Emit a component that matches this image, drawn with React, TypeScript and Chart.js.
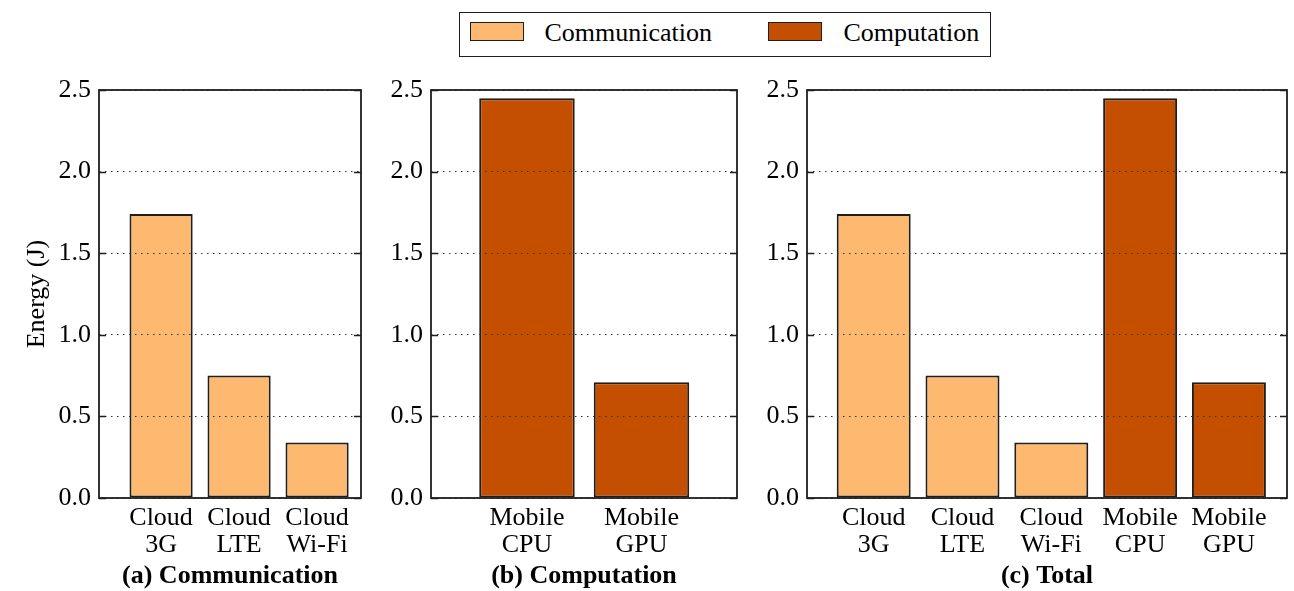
import React, { useEffect, useRef } from "react";
import { Chart, registerables } from "chart.js";

Chart.register(...registerables);

// ---------------- data ----------------
const seriesNames = ["Communication", "Computation"];
const commCategories = [["Cloud", "3G"], ["Cloud", "LTE"], ["Cloud", "Wi-Fi"]];
const commValues = [1.74, 0.75, 0.34];
const compCategories = [["Mobile", "CPU"], ["Mobile", "GPU"]];
const compValues = [2.45, 0.71];
const totalCategories = [...commCategories, ...compCategories];
const totalValues = [...commValues, ...compValues];
const totalKinds = [0, 0, 0, 1, 1]; // index into seriesNames
const yTickValues = [0, 0.5, 1.0, 1.5, 2.0, 2.5];
const panelTitles = ["(a) Communication", "(b) Computation", "(c) Total"];
const yAxisTitle = "Energy (J)";

// ---------------- style ----------------
const seriesColors = ["#fdb96f", "#c44f00"];
const edgeColor = "#1e1e1e";
const FONT = "'Liberation Serif', 'Times New Roman', 'DejaVu Serif', serif";

// ---------------- layout ----------------
const CANVAS_TOP = 60;
const CANVAS_H = 531;
const PAD_TOP = 30;
const X_AXIS_H = 93;

type PanelCfg = {
  cats: string[][];
  vals: number[];
  kinds: number[];
  title: string;
  yTitle: string | null;
  left: number;
  width: number;
  yAxisW: number;
  padRight: number;
  xMin: number;
  xMax: number;
  barPct: number;
};

const panels: PanelCfg[] = [
  {
    cats: commCategories, vals: commValues, kinds: [0, 0, 0], title: panelTitles[0], yTitle: yAxisTitle,
    left: 0, width: 375, yAxisW: 99, padRight: 14, xMin: -0.796, xMax: 2.563, barPct: 0.81,
  },
  {
    cats: compCategories, vals: compValues, kinds: [1, 1], title: panelTitles[1], yTitle: null,
    left: 375, width: 380, yAxisW: 56, padRight: 18, xMin: -0.838, xMax: 1.834, barPct: 0.834,
  },
  {
    cats: totalCategories, vals: totalValues, kinds: totalKinds, title: panelTitles[2], yTitle: null,
    left: 755, width: 539, yAxisW: 52, padRight: 7, xMin: -0.751, xMax: 4.654, barPct: 0.833,
  },
];

const framePlugin = {
  id: "frame",
  afterDraw(chart: any) {
    const { ctx, chartArea: a, scales } = chart;
    const y = scales.y;
    ctx.save();
    ctx.strokeStyle = edgeColor;
    ctx.lineWidth = 1.3;
    for (const t of y.ticks) {
      const py = Math.round(y.getPixelForValue(t.value)) + 0.5;
      ctx.beginPath();
      ctx.moveTo(a.left, py);
      ctx.lineTo(a.left + 7, py);
      ctx.moveTo(a.right, py);
      ctx.lineTo(a.right - 7, py);
      ctx.stroke();
    }
    ctx.lineWidth = 1.8;
    ctx.strokeRect(a.left, a.top, a.right - a.left, a.bottom - a.top);
    ctx.restore();
  },
};

function Panel({ cfg }: { cfg: PanelCfg }) {
  const ref = useRef<HTMLCanvasElement>(null);
  useEffect(() => {
    if (!ref.current) return;
    const chart = new Chart(ref.current, {
      type: "bar",
      data: {
        datasets: [
          {
            label: cfg.kinds.length ? seriesNames[cfg.kinds[0]] : "",
            data: cfg.vals.map((v, i) => ({ x: i, y: v })) as any,
            backgroundColor: cfg.kinds.map((k) => seriesColors[k]),
            borderColor: edgeColor,
            borderWidth: 2,
            borderSkipped: false,
            categoryPercentage: 1,
            barPercentage: cfg.barPct,
          } as any,
        ],
      },
      options: {
        responsive: false,
        animation: false,
        events: [],
        layout: { padding: { top: PAD_TOP, right: cfg.padRight, left: 0, bottom: 0 } },
        plugins: { legend: { display: false }, tooltip: { enabled: false } },
        scales: {
          x: {
            type: "linear",
            min: cfg.xMin,
            max: cfg.xMax,
            bounds: "data",
            offset: false,
            grid: { display: false, drawTicks: false },
            border: { display: false },
            afterBuildTicks: (s: any) => {
              s.ticks = cfg.cats.map((_, i) => ({ value: i }));
            },
            afterFit: (s: any) => {
              s.height = X_AXIS_H;
            },
            ticks: {
              autoSkip: false,
              maxRotation: 0,
              minRotation: 0,
              padding: 7,
              color: "#000",
              font: { family: FONT, size: 26, lineHeight: "27px" },
              callback: (_v: any, i: number) => cfg.cats[i],
            },
            title: {
              display: true,
              text: cfg.title,
              color: "#000",
              font: { family: FONT, size: 26, weight: "bold", lineHeight: "30px" },
              padding: { top: 0, bottom: 0 },
            },
          } as any,
          y: {
            type: "linear",
            min: 0,
            max: 2.5,
            bounds: "data",
            afterBuildTicks: (s: any) => {
              s.ticks = yTickValues.map((v) => ({ value: v }));
            },
            afterFit: (s: any) => {
              s.width = cfg.yAxisW;
            },
            grid: { display: true, drawTicks: false, color: "#333", lineWidth: 1, z: 1 },
            border: { display: false, dash: [1.5, 4.5] },
            ticks: {
              padding: 8,
              color: "#000",
              font: { family: FONT, size: 26 },
              callback: (v: any) => Number(v).toFixed(1),
            },
            title: {
              display: !!cfg.yTitle,
              text: cfg.yTitle || "",
              color: "#000",
              font: { family: FONT, size: 26, lineHeight: "30px" },
              padding: { top: 22, bottom: 0 },
            },
          } as any,
        },
      },
      plugins: [framePlugin],
    });
    return () => chart.destroy();
  }, [cfg]);
  return (
    <canvas
      ref={ref}
      width={cfg.width}
      height={CANVAS_H}
      style={{ position: "absolute", left: cfg.left, top: CANVAS_TOP, width: cfg.width, height: CANVAS_H }}
    />
  );
}

function Legend() {
  const sw = (left: number, color: string) => (
    <div
      style={{
        position: "absolute", left, top: 21.5, width: 54, height: 19, boxSizing: "border-box",
        border: `1.5px solid ${edgeColor}`, background: color,
      }}
    />
  );
  const txt = (left: number, text: string) => (
    <span
      style={{
        position: "absolute", left, top: 19.5, fontFamily: FONT, fontSize: 26, lineHeight: "26px",
        color: "#000", whiteSpace: "nowrap",
      }}
    >
      {text}
    </span>
  );
  return (
    <>
      <div
        style={{
          position: "absolute", left: 459, top: 12, width: 532, height: 45, boxSizing: "border-box",
          border: `1.5px solid ${edgeColor}`, background: "#fff",
        }}
      />
      {sw(470, seriesColors[0])}
      {txt(544.5, seriesNames[0])}
      {sw(768, seriesColors[1])}
      {txt(843.5, seriesNames[1])}
    </>
  );
}

export default function App() {
  return (
    <div style={{ position: "absolute", left: 0, top: 0, width: 1294, height: 591, background: "#fff", overflow: "hidden" }}>
      {panels.map((p, i) => (
        <Panel key={i} cfg={p} />
      ))}
      <Legend />
    </div>
  );
}
